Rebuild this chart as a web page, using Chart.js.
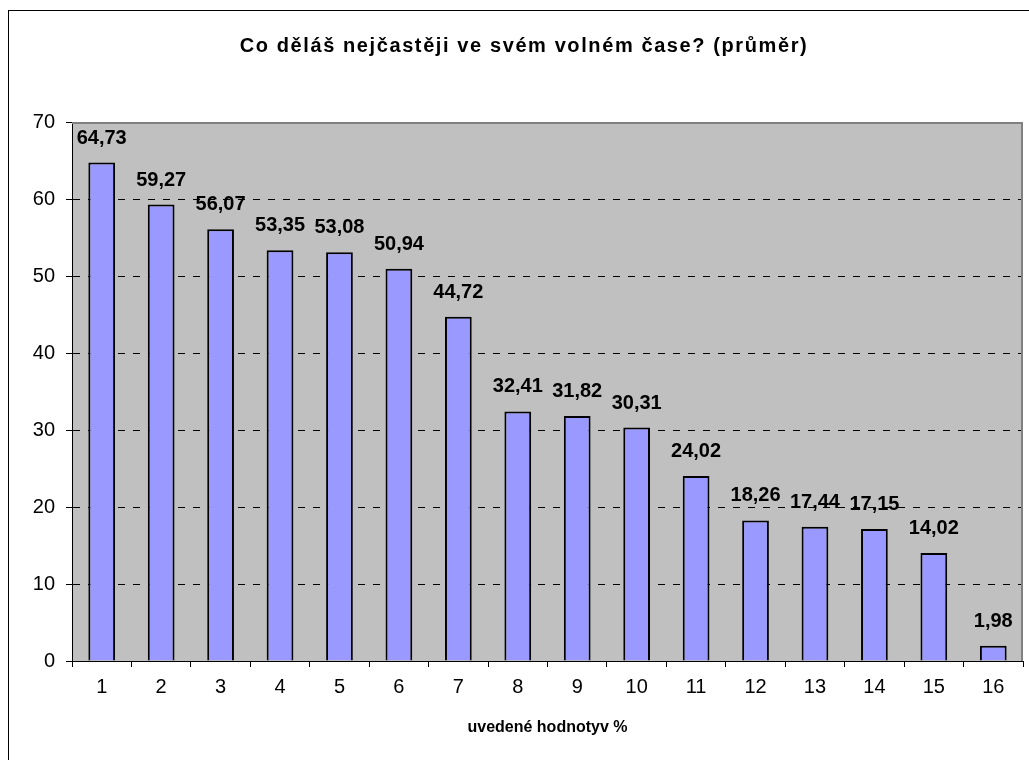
<!DOCTYPE html>
<html lang="cs">
<head>
<meta charset="utf-8">
<title>Co děláš nejčastěji ve svém volném čase?</title>
<script src="https://cdn.jsdelivr.net/npm/chart.js@4.4.0/dist/chart.umd.min.js"></script>
<style>
    html, body { margin: 0; padding: 0; background: #ffffff; }
    canvas { display: block; }
</style>
</head>
<body>
<canvas id="chart" width="1029" height="760"></canvas>
<script>
// --- Data ---
const categories = ['1', '2', '3', '4', '5', '6', '7', '8', '9', '10', '11', '12', '13', '14', '15', '16'];
const values = [64.73, 59.27, 56.07, 53.35, 53.08, 50.94, 44.72, 32.41, 31.82, 30.31, 24.02, 18.26, 17.44, 17.15, 14.02, 1.98];
const yTicks = [0, 10, 20, 30, 40, 50, 60, 70];

const chartTitle = 'Co děláš nejčastěji ve svém volném čase? (průměr)';
const xAxisTitle = 'uvedené hodnotyv %';

(function () {
    const FONT = "Arial, 'Liberation Sans', sans-serif";

    // --- Plugins ---
    // outer frame, plot background and chart title
    const framePlugin = {
        id: 'frame',
        beforeDraw(chart) {
            const { ctx, chartArea } = chart;
            ctx.save();
            ctx.fillStyle = '#ffffff';
            ctx.fillRect(0, 0, chart.width, chart.height);
            ctx.strokeStyle = '#000000';
            ctx.lineWidth = 1;
            ctx.strokeRect(8.5, 10.5, 1100, 1000);

            ctx.fillStyle = '#c0c0c0';
            ctx.fillRect(chartArea.left, chartArea.top, chartArea.right - chartArea.left, chartArea.bottom - chartArea.top);

            ctx.fillStyle = '#000000';
            ctx.font = 'bold 20px ' + FONT;
            ctx.letterSpacing = '1.6px';
            ctx.textAlign = 'center';
            ctx.textBaseline = 'alphabetic';
            ctx.fillText(chartTitle, 524, 52);
            ctx.restore();
        },
        afterDraw(chart) {
            // gray plot border on top and right
            const { ctx, chartArea } = chart;
            ctx.save();
            ctx.strokeStyle = '#808080';
            ctx.lineWidth = 2;
            ctx.beginPath();
            ctx.moveTo(chartArea.left, chartArea.top + 1);
            ctx.lineTo(chartArea.right - 1, chartArea.top + 1);
            ctx.lineTo(chartArea.right - 1, chartArea.bottom);
            ctx.stroke();
            ctx.restore();
        }
    };

    // value labels above bars
    const valueLabelPlugin = {
        id: 'valueLabels',
        afterDatasetsDraw(chart) {
            const { ctx } = chart;
            const meta = chart.getDatasetMeta(0);
            ctx.save();
            ctx.fillStyle = '#000000';
            ctx.font = 'bold 20px ' + FONT;
            ctx.textAlign = 'center';
            ctx.textBaseline = 'alphabetic';
            meta.data.forEach((bar, i) => {
                const text = values[i].toFixed(2).replace('.', ',');
                ctx.fillText(text, bar.x, bar.y - 19);
            });
            ctx.restore();
        }
    };

    // --- Chart ---
    const ctx = document.getElementById('chart').getContext('2d');
    new Chart(ctx, {
        type: 'bar',
        data: {
            labels: categories,
            datasets: [{
                data: values,
                backgroundColor: '#9999ff',
                borderColor: '#000000',
                borderWidth: 2,
                categoryPercentage: 1,
                barPercentage: 0.45
            }]
        },
        options: {
            responsive: false,
            animation: false,
            layout: { padding: { top: 122, right: 6, left: 0, bottom: 0 } },
            plugins: {
                legend: { display: false },
                tooltip: { enabled: false },
                title: { display: false }
            },
            scales: {
                x: {
                    offset: true,
                    grid: {
                        offset: true,
                        drawOnChartArea: false,
                        tickLength: 6,
                        tickColor: '#000000'
                    },
                    border: { color: '#000000', width: 1 },
                    ticks: {
                        color: '#000000',
                        font: { family: FONT, size: 20 },
                        padding: 8,
                        maxRotation: 0
                    },
                    title: {
                        display: true,
                        text: xAxisTitle,
                        color: '#000000',
                        font: { family: FONT, size: 16, weight: 'bold' },
                        padding: { top: 12, bottom: 23 }
                    },
                    afterFit(scale) { scale.height = 99; }
                },
                y: {
                    min: 0,
                    max: 70,
                    afterBuildTicks(scale) {
                        scale.ticks = yTicks.map(v => ({ value: v }));
                    },
                    grid: {
                        color: '#000000',
                        tickColor: '#000000',
                        tickLength: 6,
                        tickBorderDash: []
                    },
                    border: { color: '#000000', width: 1, dash: [7, 8] },
                    ticks: {
                        color: '#000000',
                        font: { family: FONT, size: 20 },
                        padding: 11
                    },
                    afterFit(scale) { scale.width = 72; }
                }
            }
        },
        plugins: [framePlugin, valueLabelPlugin]
    });
})();
</script>
</body>
</html>
